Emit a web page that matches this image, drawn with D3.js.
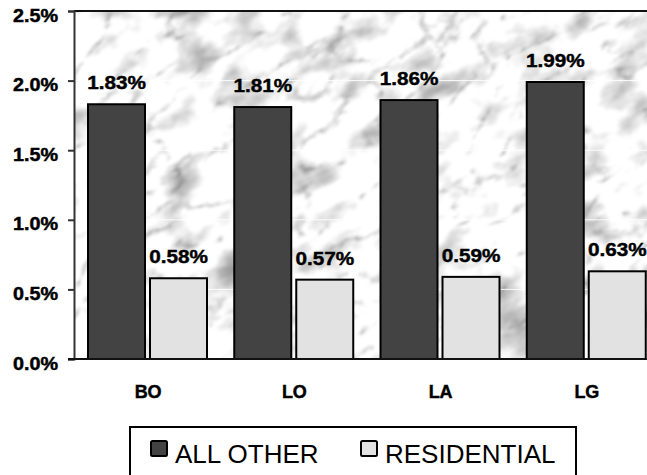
<!DOCTYPE html>
<html>
<head>
<meta charset="utf-8">
<script src="https://cdn.jsdelivr.net/npm/d3@7"></script>
<style>
  html, body { margin: 0; padding: 0; background: #fff; }
  svg { display: block; }
  text { font-family: "Liberation Sans", Arial, Helvetica, sans-serif; }
  text.heavy { stroke: #000; stroke-width: 0.45px; }
</style>
</head>
<body>
<svg id="chart" width="647" height="475"></svg>
<script>
// Regions along the x axis
const categories = ["BO", "LO", "LA", "LG"];
// Series names, as shown in the legend
const seriesNames = ["ALL OTHER", "RESIDENTIAL"];
// Share values (fractions) for each series, per region
const allOther    = [0.0183, 0.0181, 0.0186, 0.0199];
const residential = [0.0058, 0.0057, 0.0059, 0.0063];
// Y axis ticks
const yTicks = [0, 0.005, 0.01, 0.015, 0.02, 0.025];

const seriesValues = [allOther, residential];
const fills = ["#434343", "#e2e2e2"];

const W = 647, H = 475;
const plot = { left: 74, top: 11, bottom: 359, right: 659 };

const svg = d3.select("#chart");
const defs = svg.append("defs");

// Marble-like backdrop: soft clouds multiplied by faint veins
const marble = defs.append("filter").attr("id", "marble")
  .attr("x", 0).attr("y", 0).attr("width", 1).attr("height", 1)
  .attr("filterUnits", "objectBoundingBox")
  .attr("color-interpolation-filters", "sRGB");
marble.append("feTurbulence")
  .attr("type", "fractalNoise")
  .attr("baseFrequency", "0.018 0.03")
  .attr("numOctaves", 4)
  .attr("seed", 3)
  .attr("result", "cloudNoise");
marble.append("feColorMatrix")
  .attr("in", "cloudNoise").attr("type", "matrix")
  .attr("values",
    "1.0 0 0 0 0.5 " +
    "1.0 0 0 0 0.5 " +
    "1.0 0 0 0 0.5 " +
    "0 0 0 0 1")
  .attr("result", "clouds");
marble.append("feTurbulence")
  .attr("type", "turbulence")
  .attr("baseFrequency", "0.014 0.026")
  .attr("numOctaves", 4)
  .attr("seed", 11)
  .attr("result", "veinNoise");
marble.append("feColorMatrix")
  .attr("in", "veinNoise").attr("type", "matrix")
  .attr("values",
    "1.5 0 0 0 0.74 " +
    "1.5 0 0 0 0.74 " +
    "1.5 0 0 0 0.74 " +
    "0 0 0 0 1")
  .attr("result", "veins");
marble.append("feBlend").attr("in", "clouds").attr("in2", "veins").attr("mode", "multiply").attr("result", "mix");
marble.append("feGaussianBlur").attr("in", "mix").attr("stdDeviation", 1.2);

defs.append("clipPath").attr("id", "plotClip")
  .append("rect")
  .attr("x", plot.left).attr("y", plot.top)
  .attr("width", plot.right - plot.left).attr("height", plot.bottom - plot.top);

const x0 = d3.scaleBand().domain(categories).range([plot.left, plot.right]).paddingInner(0).paddingOuter(0);
const x1 = d3.scaleBand().domain(seriesNames).range([14, 133]).paddingInner(5 / 62).paddingOuter(0);
const y = d3.scaleLinear().domain([0, 0.025]).range([plot.bottom, plot.top]);

// Plot background (texture laid out on a diagonal)
const cx = (plot.left + plot.right) / 2, cy = (plot.top + plot.bottom) / 2;
svg.append("g").attr("clip-path", "url(#plotClip)")
  .append("g").attr("transform", `rotate(-32 ${cx} ${cy})`)
  .append("rect")
  .attr("x", cx - 450).attr("y", cy - 400)
  .attr("width", 900).attr("height", 800)
  .attr("fill", "#e8e8e8")
  .attr("filter", "url(#marble)");

// Horizontal gridlines
svg.append("g")
  .selectAll("line")
  .data(yTicks.filter(t => t > 0 && t < 0.025))
  .join("line")
  .attr("x1", plot.left).attr("x2", plot.right)
  .attr("y1", d => y(d)).attr("y2", d => y(d))
  .attr("stroke", "#ffffff").attr("stroke-opacity", 0.9).attr("stroke-width", 1);

// Top frame line
svg.append("line")
  .attr("x1", plot.left).attr("x2", plot.right)
  .attr("y1", plot.top).attr("y2", plot.top)
  .attr("stroke", "#111").attr("stroke-width", 2);

// Y axis
const yAxis = d3.axisLeft(y).tickValues(yTicks).tickFormat(d3.format(".1%")).tickSize(6).tickPadding(10);
const gy = svg.append("g").attr("transform", `translate(${plot.left},0)`).call(yAxis);
gy.select(".domain").attr("stroke", "#333").attr("stroke-width", 2);
gy.selectAll(".tick line").attr("stroke", "#333").attr("stroke-width", 2);
gy.selectAll(".tick text")
  .attr("class", "heavy")
  .attr("fill", "#000")
  .attr("font-size", 17.5)
  .attr("font-weight", "bold")
  .attr("dy", null)
  .attr("y", 10)
  .each(function () {
    // widen glyphs, keeping the right edge anchored
    const t = d3.select(this);
    const xr = +t.attr("x");
    t.attr("transform", `translate(${xr},0) scale(1.13,1) translate(${-xr},0)`);
  });

// Bars
const groups = svg.append("g")
  .selectAll("g")
  .data(categories)
  .join("g")
  .attr("transform", d => `translate(${x0(d)},0)`);

groups.selectAll("rect")
  .data((c, i) => seriesNames.map((s, k) => ({ s, k, v: seriesValues[k][i] })))
  .join("rect")
  .attr("x", d => x1(d.s))
  .attr("width", x1.bandwidth())
  .attr("y", d => y(d.v))
  .attr("height", d => y(0) - y(d.v))
  .attr("fill", d => fills[d.k])
  .attr("stroke", "#000")
  .attr("stroke-width", 2);

// Value labels above bars
groups.selectAll("text.value")
  .data((c, i) => seriesNames.map((s, k) => ({ s, k, v: seriesValues[k][i] })))
  .join("text")
  .attr("class", "value heavy")
  .attr("text-anchor", "middle")
  .attr("font-size", 18.5)
  .attr("font-weight", "bold")
  .attr("fill", "#000")
  .attr("transform", d => {
    const bx = x1(d.s) + x1.bandwidth() / 2;
    return `translate(${bx},${y(d.v) - 15}) scale(1.12,1)`;
  })
  .text(d => d3.format(".2%")(d.v));

// Baseline
svg.append("line")
  .attr("x1", plot.left - 6).attr("x2", plot.right)
  .attr("y1", plot.bottom).attr("y2", plot.bottom)
  .attr("stroke", "#111").attr("stroke-width", 2);

// Category labels
svg.append("g")
  .selectAll("text")
  .data(categories)
  .join("text")
  .attr("class", "heavy")
  .attr("x", d => x0(d) + x0.bandwidth() / 2 + 1)
  .attr("y", 398)
  .attr("text-anchor", "middle")
  .attr("font-size", 18)
  .attr("font-weight", "bold")
  .attr("fill", "#000")
  .text(d => d);

// Legend
const legend = svg.append("g");
legend.append("rect")
  .attr("x", 130).attr("y", 427).attr("width", 446).attr("height", 52)
  .attr("fill", "#fff").attr("stroke", "#000").attr("stroke-width", 2);
const legendX = [151, 361];
seriesNames.forEach((name, k) => {
  legend.append("rect")
    .attr("x", legendX[k]).attr("y", 441)
    .attr("width", 16).attr("height", 15)
    .attr("rx", 1.5)
    .attr("fill", fills[k]).attr("stroke", "#000").attr("stroke-width", 2);
  legend.append("text")
    .attr("x", legendX[k] + 24).attr("y", 463)
    .attr("font-size", 26)
    .attr("fill", "#000")
    .text(name);
});
</script>
</body>
</html>
